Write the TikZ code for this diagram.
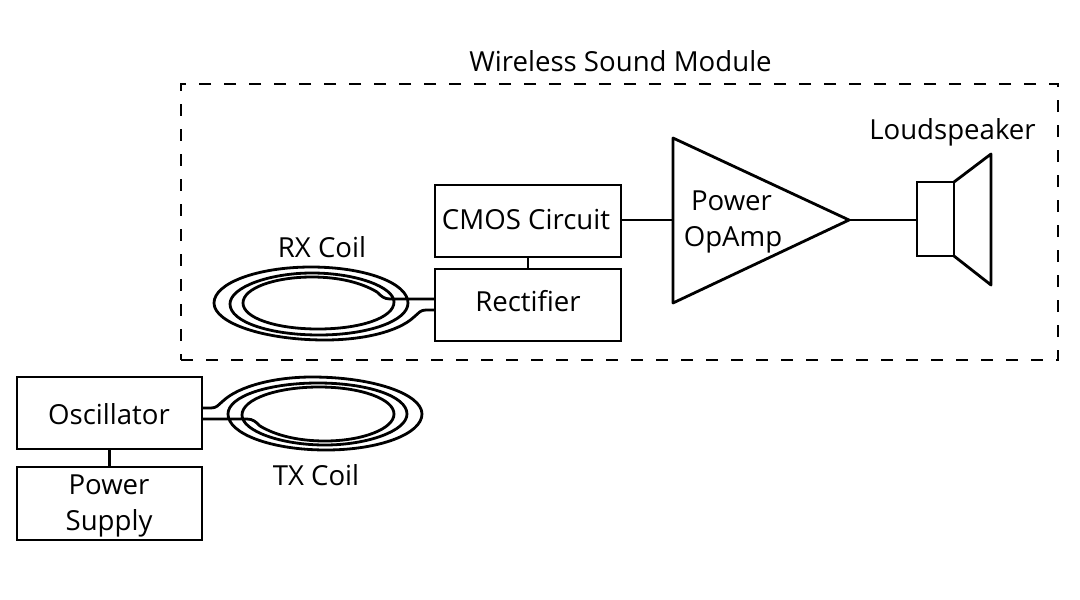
\documentclass[tikz,border=0pt]{standalone}
\usepackage{fontspec}
\setmainfont{Open Sans}
\tikzset{
  px/.style={x=1pt,y=-1pt},
  wire/.style={draw=black,line width=2.8pt,line join=round},
  block/.style={draw=black,line width=2.8pt,minimum width=#1,minimum height=72pt,inner sep=0pt,outer sep=0pt,anchor=north west},
  block/.default=186pt,
  lbl/.style={font=\fontsize{27.6}{32}\selectfont,text=black,inner sep=0pt,outer sep=0pt,anchor=base}
}
\begin{document}
\begin{tikzpicture}[px]
\useasboundingbox (0,0) rectangle (1080,600);
% module frame
\node[draw=black,line width=2.4pt,dash pattern=on 12pt off 13pt,minimum width=877pt,minimum height=276pt,inner sep=0pt,outer sep=0pt,anchor=north west] (module) at (181,84) {};
\node[lbl] (modulelabel) at (620.5,71) {Wireless Sound Module};
% blocks
\node[block] (cmos) at (435,185) {};
\node[lbl] (cmoslabel) at (526,229.5) {CMOS Circuit};
\node[block] (rect) at (435,269) {};
\node[lbl] (rectlabel) at (528,311) {Rectifier};
\node[block,minimum width=185pt] (osc) at (17,377) {};
\node[lbl] (osclabel) at (109,424) {Oscillator};
\node[block,minimum width=185pt,minimum height=73pt] (supply) at (17,467) {};
\node[lbl] (supplya) at (109,494) {Power};
\node[lbl] (supplyb) at (109,530) {Supply};
% amplifier
\coordinate (ampa) at (673,138);
\coordinate (ampb) at (673,303);
\coordinate (ampc) at (849,220);
\draw[wire] (ampa) -- (ampc) -- (ampb) -- cycle;
\node[lbl] (ampla) at (731.5,210) {Power};
\node[lbl] (amplb) at (733,246) {OpAmp};
% loudspeaker
\node[draw=black,line width=2.8pt,minimum width=37pt,minimum height=74pt,inner sep=0pt,outer sep=0pt,anchor=north west] (spk) at (917,182) {};
\coordinate (conea) at (991,154);
\coordinate (coneb) at (991,285);
\draw[wire] (spk.north east) -- (conea) -- (coneb) -- (spk.south east);
\node[lbl] (spklabel) at (952.5,139) {Loudspeaker};
% connectors
\draw[wire] (cmos.east |- ampc) -- (ampa |- ampc);
\draw[wire] (ampc) -- (ampc -| spk.west);
\draw[wire] (cmos.south) -- (rect.north);
\draw[wire] (osc.south) -- (osc.south |- supply.north);
% RX coil
\coordinate (rxa) at (435,310);
\coordinate (rxb) at (435,299);
\draw[wire] (rxa) -- (426,310) .. controls (420,310) and (419,313) .. (414,317)
 .. controls (398,332) and (362,340) .. (325,340)
 .. controls (264,340) and (214,323) .. (214,303)
 .. controls (214,283) and (258,267) .. (311,267)
 .. controls (365,267) and (408,283) .. (408,303)
 .. controls (408,321) and (368,335) .. (319,335)
 .. controls (270,335) and (230,322) .. (230,304)
 .. controls (230,287) and (270,273) .. (312,273)
 .. controls (356,273) and (394,287) .. (394,302)
 .. controls (394,318) and (360,329) .. (318,329)
 .. controls (276,329) and (243,318) .. (243,303)
 .. controls (243,288) and (275,277) .. (312,277)
 .. controls (340,277) and (362,283) .. (377,292)
 .. controls (381,296) and (384,299) .. (390,299) -- (rxb);
\node[lbl] (rxlabel) at (322,257) {RX Coil};
% TX coil
\coordinate (txa) at (202,408);
\coordinate (txb) at (202,419);
\draw[wire] (txa) -- (211,408) .. controls (217,408) and (218,405) .. (223,401)
 .. controls (239,386) and (275,377) .. (312,377)
 .. controls (373,377) and (422,394) .. (422,414)
 .. controls (422,434) and (379,450) .. (326,450)
 .. controls (272,450) and (228,434) .. (228,414)
 .. controls (228,396) and (269,383) .. (318,383)
 .. controls (367,383) and (407,396) .. (407,414)
 .. controls (407,431) and (367,445) .. (325,445)
 .. controls (281,445) and (242,431) .. (242,415)
 .. controls (242,399) and (277,387) .. (319,387)
 .. controls (361,387) and (394,399) .. (394,414)
 .. controls (394,429) and (362,441) .. (325,441)
 .. controls (297,441) and (275,435) .. (260,426)
 .. controls (256,422) and (253,419) .. (247,419) -- (txb);
\node[lbl] (txlabel) at (316,485) {TX Coil};
\end{tikzpicture}
\end{document}
